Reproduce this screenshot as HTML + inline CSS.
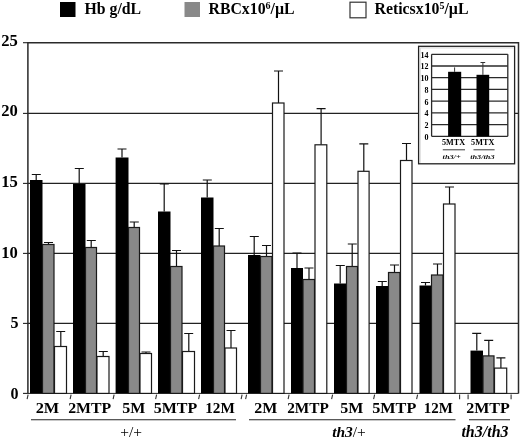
<!DOCTYPE html>
<html><head><meta charset="utf-8"><title>chart</title>
<style>html,body{margin:0;padding:0;background:#fff}svg{display:block}</style></head>
<body>
<svg width="520" height="440" viewBox="0 0 520 440">
<rect width="520" height="440" fill="#fff"/>
<g stroke="#222" stroke-width="1.1">
<line x1="27.9" x2="518.5" y1="323.4" y2="323.4"/>
<line x1="27.9" x2="518.5" y1="253.4" y2="253.4"/>
<line x1="27.9" x2="518.5" y1="183.4" y2="183.4"/>
<line x1="27.9" x2="518.5" y1="113.4" y2="113.4"/>
</g>
<path d="M27.9 393.4 V42.7 H518.5 V393.4" fill="none" stroke="#2a2a2a" stroke-width="1.5"/>
<line x1="27.9" x2="518.5" y1="393.4" y2="393.4" stroke="#222" stroke-width="1"/>
<g stroke="#222" stroke-width="1.1">
<line x1="23" x2="27.9" y1="393.4" y2="393.4"/>
<line x1="23" x2="27.9" y1="323.4" y2="323.4"/>
<line x1="23" x2="27.9" y1="253.4" y2="253.4"/>
<line x1="23" x2="27.9" y1="183.4" y2="183.4"/>
<line x1="23" x2="27.9" y1="113.4" y2="113.4"/>
<line x1="23" x2="27.9" y1="42.7" y2="42.7"/>
</g>
<g font-family="'Liberation Serif', serif" font-weight="bold" font-size="16" fill="#000">
<text x="10.4" y="398.6">0</text>
<text x="10.4" y="328.1">5</text>
<text x="1.2" y="257.5" textLength="16.6" lengthAdjust="spacingAndGlyphs">10</text>
<text x="1.2" y="186.9" textLength="16.6" lengthAdjust="spacingAndGlyphs">15</text>
<text x="1.2" y="116.4" textLength="16.6" lengthAdjust="spacingAndGlyphs">20</text>
<text x="1.2" y="45.9" textLength="16.6" lengthAdjust="spacingAndGlyphs">25</text>
</g>
<path d="M36.2 180 V174.5 M31.8 174.5 H40.8" stroke="#111" stroke-width="1.2" fill="none"/>
<rect x="30" y="180" width="12.5" height="213.4" fill="#000"/>
<path d="M48.5 244.5 V242.5 M44.0 242.5 H53.0" stroke="#111" stroke-width="1.2" fill="none"/>
<rect x="42.5" y="244.5" width="11.5" height="148.9" fill="#898989" stroke="#1a1a1a" stroke-width="1.2"/>
<path d="M60.8 346.5 V331.5 M56.2 331.5 H65.2" stroke="#111" stroke-width="1.2" fill="none"/>
<rect x="54.5" y="346.5" width="12.0" height="46.9" fill="#fff" stroke="#1a1a1a" stroke-width="1.2"/>
<path d="M79.2 184 V168.5 M74.8 168.5 H83.8" stroke="#111" stroke-width="1.2" fill="none"/>
<rect x="73" y="184" width="12.5" height="209.4" fill="#000"/>
<path d="M91.2 247.5 V240.5 M86.8 240.5 H95.8" stroke="#111" stroke-width="1.2" fill="none"/>
<rect x="85.5" y="247.5" width="11.0" height="145.9" fill="#898989" stroke="#1a1a1a" stroke-width="1.2"/>
<path d="M103.2 356.5 V351.5 M98.8 351.5 H107.8" stroke="#111" stroke-width="1.2" fill="none"/>
<rect x="97" y="356.5" width="12.0" height="36.9" fill="#fff" stroke="#1a1a1a" stroke-width="1.2"/>
<path d="M122.0 157.5 V149 M117.5 149 H126.5" stroke="#111" stroke-width="1.2" fill="none"/>
<rect x="115.6" y="157.5" width="12.900000000000006" height="235.9" fill="#000"/>
<path d="M134.2 227.5 V222 M129.8 222 H138.8" stroke="#111" stroke-width="1.2" fill="none"/>
<rect x="128.5" y="227.5" width="11.0" height="165.9" fill="#898989" stroke="#1a1a1a" stroke-width="1.2"/>
<path d="M146.0 353.5 V352 M141.5 352 H150.5" stroke="#111" stroke-width="1.2" fill="none"/>
<rect x="140" y="353.5" width="11.5" height="39.9" fill="#fff" stroke="#1a1a1a" stroke-width="1.2"/>
<path d="M164.2 211.5 V184 M159.8 184 H168.8" stroke="#111" stroke-width="1.2" fill="none"/>
<rect x="158" y="211.5" width="12.5" height="181.9" fill="#000"/>
<path d="M176.5 266.5 V250.5 M172.0 250.5 H181.0" stroke="#111" stroke-width="1.2" fill="none"/>
<rect x="170.5" y="266.5" width="11.5" height="126.9" fill="#898989" stroke="#1a1a1a" stroke-width="1.2"/>
<path d="M188.8 351.5 V333.5 M184.2 333.5 H193.2" stroke="#111" stroke-width="1.2" fill="none"/>
<rect x="182.5" y="351.5" width="12.0" height="41.9" fill="#fff" stroke="#1a1a1a" stroke-width="1.2"/>
<path d="M207.2 197.5 V180 M202.8 180 H211.8" stroke="#111" stroke-width="1.2" fill="none"/>
<rect x="201" y="197.5" width="12.5" height="195.9" fill="#000"/>
<path d="M219.2 246 V228.5 M214.8 228.5 H223.8" stroke="#111" stroke-width="1.2" fill="none"/>
<rect x="213.5" y="246" width="11.0" height="147.4" fill="#898989" stroke="#1a1a1a" stroke-width="1.2"/>
<path d="M231.0 348 V330.5 M226.5 330.5 H235.5" stroke="#111" stroke-width="1.2" fill="none"/>
<rect x="225" y="348" width="11.5" height="45.4" fill="#fff" stroke="#1a1a1a" stroke-width="1.2"/>
<path d="M254.2 255 V236.5 M249.8 236.5 H258.8" stroke="#111" stroke-width="1.2" fill="none"/>
<rect x="248" y="255" width="12.5" height="138.4" fill="#000"/>
<path d="M266.5 256.5 V245.5 M262.0 245.5 H271.0" stroke="#111" stroke-width="1.2" fill="none"/>
<rect x="260.5" y="256.5" width="11.5" height="136.9" fill="#898989" stroke="#1a1a1a" stroke-width="1.2"/>
<path d="M278.5 103 V71 M274.0 71 H283.0" stroke="#111" stroke-width="1.2" fill="none"/>
<rect x="272.5" y="103" width="11.5" height="290.4" fill="#fff" stroke="#1a1a1a" stroke-width="1.2"/>
<path d="M297.0 268 V253 M292.5 253 H301.5" stroke="#111" stroke-width="1.2" fill="none"/>
<rect x="291" y="268" width="12" height="125.4" fill="#000"/>
<path d="M309.0 279.5 V268 M304.5 268 H313.5" stroke="#111" stroke-width="1.2" fill="none"/>
<rect x="303" y="279.5" width="11.5" height="113.9" fill="#898989" stroke="#1a1a1a" stroke-width="1.2"/>
<path d="M321.1 144.8 V108.6 M316.6 108.6 H325.6" stroke="#111" stroke-width="1.2" fill="none"/>
<rect x="315" y="144.8" width="11.800000000000011" height="248.6" fill="#fff" stroke="#1a1a1a" stroke-width="1.2"/>
<path d="M340.2 283.5 V265.5 M335.8 265.5 H344.8" stroke="#111" stroke-width="1.2" fill="none"/>
<rect x="334" y="283.5" width="12.5" height="109.9" fill="#000"/>
<path d="M352.2 266.5 V244 M347.8 244 H356.8" stroke="#111" stroke-width="1.2" fill="none"/>
<rect x="346.5" y="266.5" width="11.0" height="126.9" fill="#898989" stroke="#1a1a1a" stroke-width="1.2"/>
<path d="M363.8 171.3 V143.8 M359.3 143.8 H368.3" stroke="#111" stroke-width="1.2" fill="none"/>
<rect x="358" y="171.3" width="11.100000000000023" height="222.1" fill="#fff" stroke="#1a1a1a" stroke-width="1.2"/>
<path d="M382.2 286 V281.5 M377.8 281.5 H386.8" stroke="#111" stroke-width="1.2" fill="none"/>
<rect x="376" y="286" width="12.5" height="107.4" fill="#000"/>
<path d="M394.5 272.5 V265 M390.0 265 H399.0" stroke="#111" stroke-width="1.2" fill="none"/>
<rect x="388.5" y="272.5" width="11.5" height="120.9" fill="#898989" stroke="#1a1a1a" stroke-width="1.2"/>
<path d="M406.5 160.5 V143.5 M402.0 143.5 H411.0" stroke="#111" stroke-width="1.2" fill="none"/>
<rect x="400.5" y="160.5" width="11.5" height="232.9" fill="#fff" stroke="#1a1a1a" stroke-width="1.2"/>
<path d="M425.5 285.5 V282.5 M421.0 282.5 H430.0" stroke="#111" stroke-width="1.2" fill="none"/>
<rect x="419.5" y="285.5" width="12.0" height="107.9" fill="#000"/>
<path d="M437.5 275 V264 M433.0 264 H442.0" stroke="#111" stroke-width="1.2" fill="none"/>
<rect x="431.5" y="275" width="11.5" height="118.4" fill="#898989" stroke="#1a1a1a" stroke-width="1.2"/>
<path d="M449.5 204 V187 M445.0 187 H454.0" stroke="#111" stroke-width="1.2" fill="none"/>
<rect x="443.5" y="204" width="11.5" height="189.4" fill="#fff" stroke="#1a1a1a" stroke-width="1.2"/>
<path d="M476.8 350.6 V333.4 M472.2 333.4 H481.2" stroke="#111" stroke-width="1.2" fill="none"/>
<rect x="470.5" y="350.6" width="12.5" height="42.8" fill="#000"/>
<path d="M488.8 355.9 V340.4 M484.2 340.4 H493.2" stroke="#111" stroke-width="1.2" fill="none"/>
<rect x="483" y="355.9" width="11.0" height="37.5" fill="#898989" stroke="#1a1a1a" stroke-width="1.2"/>
<path d="M500.9 368.1 V357.8 M496.4 357.8 H505.4" stroke="#111" stroke-width="1.2" fill="none"/>
<rect x="494.5" y="368.1" width="12.199999999999989" height="25.3" fill="#fff" stroke="#1a1a1a" stroke-width="1.2"/>
<g stroke="#333" stroke-width="1.1">
<line x1="28.1" x2="27.1" y1="394.6" y2="399.2"/>
<line x1="71.1" x2="70.1" y1="394.6" y2="399.2"/>
<line x1="114.1" x2="113.1" y1="394.6" y2="399.2"/>
<line x1="156.6" x2="155.6" y1="394.6" y2="399.2"/>
<line x1="199.6" x2="198.6" y1="394.6" y2="399.2"/>
<line x1="242.1" x2="241.1" y1="394.6" y2="399.2"/>
<line x1="246.6" x2="245.6" y1="394.6" y2="399.2"/>
<line x1="289.1" x2="288.1" y1="394.6" y2="399.2"/>
<line x1="332.6" x2="331.6" y1="394.6" y2="399.2"/>
<line x1="374.6" x2="373.6" y1="394.6" y2="399.2"/>
<line x1="417.6" x2="416.6" y1="394.6" y2="399.2"/>
<line x1="459.6" x2="459.6" y1="394.6" y2="399.2"/>
<line x1="468.1" x2="468.1" y1="394.6" y2="399.2"/>
<line x1="511.1" x2="511.1" y1="394.6" y2="399.2"/>
</g>
<g font-family="'Liberation Serif', serif" font-weight="bold" font-size="15.5" fill="#000">
<text x="35.7" y="412.8" textLength="23.6" lengthAdjust="spacingAndGlyphs">2M</text>
<text x="68.2" y="412.8" textLength="43.1" lengthAdjust="spacingAndGlyphs">2MTP</text>
<text x="122.2" y="412.8" textLength="23.1" lengthAdjust="spacingAndGlyphs">5M</text>
<text x="153.7" y="412.8" textLength="43.6" lengthAdjust="spacingAndGlyphs">5MTP</text>
<text x="205.2" y="412.8" textLength="29.6" lengthAdjust="spacingAndGlyphs">12M</text>
<text x="254.2" y="412.8" textLength="23.1" lengthAdjust="spacingAndGlyphs">2M</text>
<text x="287.2" y="412.8" textLength="41.6" lengthAdjust="spacingAndGlyphs">2MTP</text>
<text x="340.2" y="412.8" textLength="23.1" lengthAdjust="spacingAndGlyphs">5M</text>
<text x="372.2" y="412.8" textLength="44.1" lengthAdjust="spacingAndGlyphs">5MTP</text>
<text x="423.7" y="412.8" textLength="29.1" lengthAdjust="spacingAndGlyphs">12M</text>
<text x="466.2" y="412.8" textLength="43.6" lengthAdjust="spacingAndGlyphs">2MTP</text>
</g>
<g stroke="#222" stroke-width="1.1">
<line x1="31" x2="236" y1="419.8" y2="419.8"/>
<line x1="249" x2="455.5" y1="419.8" y2="419.8"/>
<line x1="469" x2="510" y1="419.8" y2="419.8"/>
</g>
<g font-family="'Liberation Serif', serif" font-size="15.5" text-anchor="middle" fill="#000">
<text x="131.2" y="436.6">+/+</text>
<text x="349" y="436.5"><tspan font-weight="bold" font-style="italic">th3</tspan>/+</text>
<text x="485" y="436.5" font-size="16" font-weight="bold" font-style="italic">th3/th3</text>
</g>
<rect x="60" y="2" width="15.5" height="15" fill="#000"/>
<rect x="184.5" y="2" width="15.5" height="15" fill="#898989"/>
<rect x="350" y="2.2" width="16" height="15.6" fill="#fff" stroke="#333" stroke-width="1.2"/>
<g font-family="'Liberation Serif', serif" font-weight="bold" font-size="15.8" fill="#000">
<text x="84.5" y="13.5">Hb g/dL</text>
<text x="208.5" y="13.5">RBCx10<tspan font-size="10" dy="-5">6</tspan><tspan dy="5">/µL</tspan></text>
<text x="374.5" y="13.5">Reticsx10<tspan font-size="10" dy="-5">5</tspan><tspan dy="5">/µL</tspan></text>
</g>
<rect x="418.6" y="46.3" width="96.0" height="117.50000000000001" fill="#fff" stroke="#222" stroke-width="1.3"/>
<path d="M420.20000000000005 162.8 V47.9 H513.6" fill="none" stroke="#ccc" stroke-width="0.8"/>
<g stroke="#2a2a2a" stroke-width="1.3">
<line x1="431.6" x2="507.8" y1="136.3" y2="136.3"/>
<line x1="431.6" x2="507.8" y1="124.6" y2="124.6"/>
<line x1="431.6" x2="507.8" y1="112.9" y2="112.9"/>
<line x1="431.6" x2="507.8" y1="101.2" y2="101.2"/>
<line x1="431.6" x2="507.8" y1="89.4" y2="89.4"/>
<line x1="431.6" x2="507.8" y1="77.7" y2="77.7"/>
<line x1="431.6" x2="507.8" y1="66.0" y2="66.0"/>
<line x1="431.6" x2="507.8" y1="54.3" y2="54.3"/>
<line x1="431.6" x2="431.6" y1="54.3" y2="136.3"/>
<line x1="507.8" x2="507.8" y1="54.3" y2="136.3"/>
</g>
<g font-family="'Liberation Serif', serif" font-weight="bold" font-size="8" text-anchor="end" fill="#000">
<text x="428.6" y="139.7">0</text>
<text x="428.6" y="128.0">2</text>
<text x="428.6" y="116.3">4</text>
<text x="428.6" y="104.6">6</text>
<text x="428.6" y="92.8">8</text>
<text x="428.6" y="81.1">10</text>
<text x="428.6" y="69.4">12</text>
<text x="428.6" y="57.7">14</text>
</g>
<path d="M454.6 71.8 V67.4 M454.6 67.4 H454.6" stroke="#333" stroke-width="1" fill="none"/>
<rect x="448.1" y="71.8" width="13.1" height="64.5" fill="#000"/>
<path d="M482.9 74.8 V62.5 M480.5 62.5 H485.2" stroke="#333" stroke-width="1" fill="none"/>
<rect x="476.5" y="74.8" width="12.7" height="61.5" fill="#000"/>
<g font-family="'Liberation Serif', serif" font-weight="bold" font-size="7.7" fill="#000">
<text x="442" y="144.9" textLength="23.2" lengthAdjust="spacingAndGlyphs">5MTX</text><text x="471.1" y="144.9" textLength="23.2" lengthAdjust="spacingAndGlyphs">5MTX</text>
</g>
<g stroke="#222" stroke-width="0.9"><line x1="442.8" x2="465" y1="149.8" y2="149.8"/><line x1="473.5" x2="494.6" y1="149.8" y2="149.8"/></g>
<g font-family="'Liberation Serif', serif" font-style="italic" font-weight="bold" font-size="6.9" fill="#111">
<text x="442.6" y="158.7" textLength="18" lengthAdjust="spacingAndGlyphs">th3/+</text><text x="470.2" y="158.7" textLength="24.4" lengthAdjust="spacingAndGlyphs">th3/th3</text>
</g>
</svg>
</body></html>
